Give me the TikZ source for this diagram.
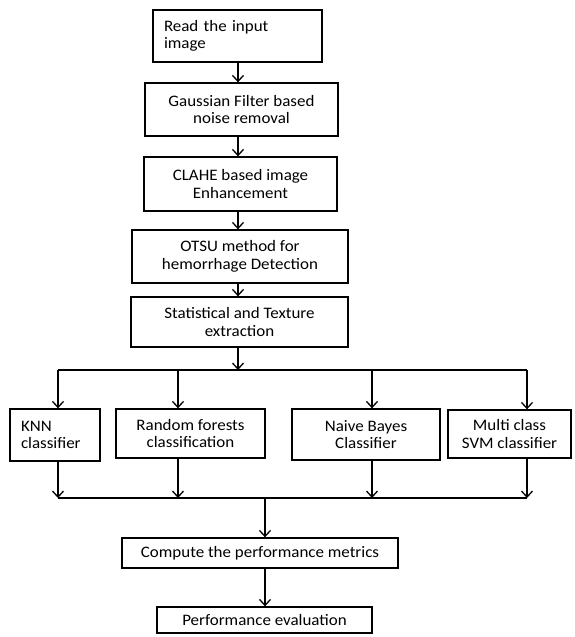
\documentclass[tikz,border=0pt]{standalone}
\usepackage{fontspec}
\setmainfont{Carlito}[FakeStretch=1.06]
\usetikzlibrary{arrows.meta}
\begin{document}
\begin{tikzpicture}[x=1pt,y=-1pt,
  box/.style={draw, line width=1.3pt, inner sep=0pt, align=center,
    font=\fontsize{16}{17.5}\selectfont},
  lbox/.style={box, align=left, inner xsep=11pt},
  conn/.style={line width=1.3pt},
  arr/.style={conn, -{Straight Barb[length=6pt,width=11pt,line width=1.3pt]}}]
\useasboundingbox[fill=white] (0,0) rectangle (574,637);
\node[lbox, minimum height=52pt, text width=147pt] (b1) at (237.5,36) {Read the input\\image};
\node[box, minimum width=193pt, minimum height=53pt] (b2) at (241.5,109.5) {Gaussian Filter based\\noise removal};
\node[box, minimum width=193pt, minimum height=54pt] (b3) at (240.5,184) {CLAHE based image\\Enhancement};
\node[box, minimum width=216pt, minimum height=53pt] (b4) at (240,256.5) {OTSU method for\\hemorrhage Detection};
\node[box, minimum width=217pt, minimum height=50pt] (b5) at (239.5,322) {Statistical and Texture\\extraction};
\node[lbox, minimum height=52pt, text width=68pt] (knn) at (55,435) {KNN\\classifier};
\node[box, minimum width=149pt, minimum height=49pt] (rf) at (190.5,433.5) {Random forests\\classification};
\node[box, minimum width=148pt, minimum height=51pt] (nb) at (366,434.5) {Naive Bayes\\Classifier};
\node[box, minimum width=123pt, minimum height=48pt] (svm) at (509.5,434) {Multi class\\SVM classifier};
\node[box, minimum width=276pt, minimum height=30pt] (comp) at (260,553) {Compute the performance metrics};
\node[box, minimum width=215pt, minimum height=26pt] (perf) at (264.5,620) {Performance evaluation};
% split and join lines
\coordinate (sL) at (58,370);
\coordinate (sR) at (527,370);
\coordinate (jL) at (58,498);
\coordinate (jR) at (527,498);
\coordinate (xa) at (238,0);
\coordinate (xk) at (58,0);
\coordinate (xr) at (178,0);
\coordinate (xn) at (372,0);
\coordinate (xs) at (527,0);
\coordinate (xc) at (265,0);
\draw[arr] (b1.south -| xa) -- (b2.north -| xa);
\draw[arr] (b2.south -| xa) -- (b3.north -| xa);
\draw[arr] (b3.south -| xa) -- (b4.north -| xa);
\draw[arr] (b4.south -| xa) -- (b5.north -| xa);
\draw[arr] (b5.south -| xa) -- (sL -| xa);
\draw[conn] (sL) -- (sR);
\draw[arr] (sL) -- (knn.north -| xk);
\draw[arr] (sL -| xr) -- (rf.north -| xr);
\draw[arr] (sL -| xn) -- (nb.north -| xn);
\draw[arr] (sR) -- (svm.north -| xs);
\draw[arr] (knn.south -| xk) -- (jL);
\draw[arr] (rf.south -| xr) -- (jL -| xr);
\draw[arr] (nb.south -| xn) -- (jL -| xn);
\draw[arr] (svm.south -| xs) -- (jR);
\draw[conn] (jL) -- (jR);
\draw[arr] (jL -| xc) -- (comp.north -| xc);
\draw[arr] (comp.south -| xc) -- (perf.north -| xc);
\end{tikzpicture}
\end{document}
